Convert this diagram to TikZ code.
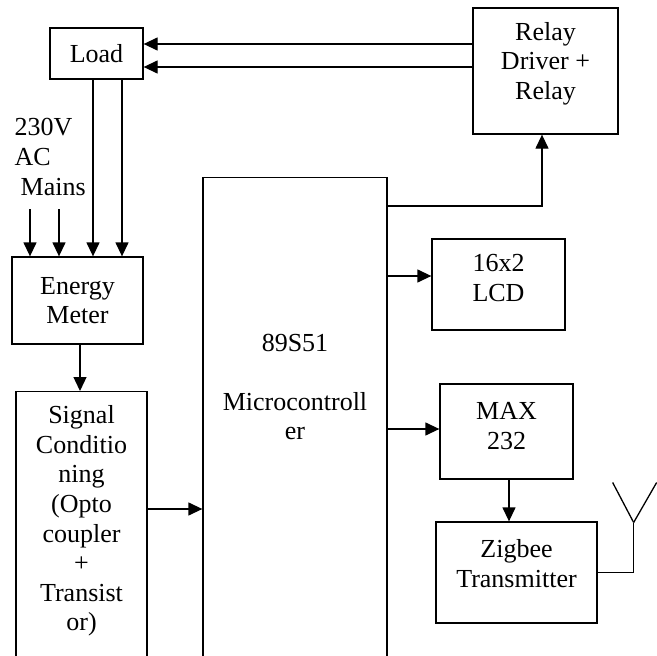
\documentclass[tikz,border=0pt]{standalone}
\usepackage{fontspec}
\setmainfont{Liberation Serif}
\usetikzlibrary{arrows.meta,positioning,calc}

\begin{document}
\begin{tikzpicture}[x=1pt,y=-1pt,>={Triangle[length=14pt,width=13pt]},line width=1.3pt,
  blk/.style={draw,align=center,inner sep=0pt,font=\fontsize{26}{29.6}\selectfont},
  lbl/.style={align=center,inner sep=0pt,font=\fontsize{26}{29.6}\selectfont}]
\path[use as bounding box,clip] (0,0) rectangle (657,656);
% blocks
\node[blk,minimum width=93pt,minimum height=51pt] (load) at (96.5,53.5) {Load};
\node[blk,minimum width=145pt,minimum height=126pt] (relay) at (545.5,71) {};
\node[lbl] (relaytxt) at ([yshift=7.5pt]relay.center) {Relay\\Driver +\\Relay};
\node[lbl,align=left,anchor=west] (mains) at (14,157) {230V\\AC\\\hspace{6pt}Mains};
\node[blk,minimum width=131pt,minimum height=87pt] (energy) at (77.5,300.5) {Energy\\Meter};
\node[blk,minimum width=131pt,minimum height=300pt,anchor=north] (sig) at (81.5,391) {};
\node[lbl] (sigtxt) at (81.5,521) {Signal\\Conditio\\ning\\(Opto\\coupler\\+\\Transist\\or)};
\node[blk,minimum width=184pt,minimum height=520pt,anchor=north] (micro) at (295,177) {};
\node[lbl] (microtxt) at (295,387) {89S51\\[29.6pt]Microcontroll\\er};
\node[blk,minimum width=133pt,minimum height=91pt] (lcd) at (498.5,284.5) {};
\node[lbl] (lcdtxt) at ([yshift=6.5pt]lcd.center) {16x2\\LCD};
\node[blk,minimum width=133pt,minimum height=95pt] (max) at (506.5,431.5) {};
\node[lbl] (maxtxt) at ([yshift=5.5pt]max.center) {MAX\\232};
\node[blk,minimum width=161pt,minimum height=101pt] (zig) at (516.5,572.5) {};
\node[lbl] (zigtxt) at ([yshift=9pt]zig.center) {Zigbee\\Transmitter};
% connection points
\coordinate (l1) at ([yshift=9.5pt]load.east);
\coordinate (l2) at ([yshift=-13.5pt]load.east);
\coordinate (l3) at ([xshift=-3.5pt]load.south);
\coordinate (l4) at ([xshift=25.5pt]load.south);
\coordinate (m1) at (30,209);
\coordinate (m2) at (59,209);
\coordinate (e1) at ([xshift=2.5pt]energy.south);
\coordinate (s1) at ($(sig.north east)+(0,118)$);
\coordinate (u1) at ($(micro.north east)+(0,29)$);
\coordinate (r1) at ([xshift=-3.5pt]relay.south);
\coordinate (c1) at ([yshift=8.5pt]lcd.west);
\coordinate (c2) at ([yshift=2.5pt]max.west);
\coordinate (x1) at ([xshift=2.5pt]max.south);
% arrows
\draw[->] (relay.west |- l1) -- (l1);
\draw[->] (relay.west |- l2) -- (l2);
\draw[->] (l3) -- (l3 |- energy.north);
\draw[->] (l4) -- (l4 |- energy.north);
\draw[->] (m1) -- (m1 |- energy.north);
\draw[->] (m2) -- (m2 |- energy.north);
\draw[->] (e1) -- (e1 |- sig.north);
\draw[->] (s1) -- (s1 -| micro.west);
\draw[->] (u1) -| (r1);
\draw[->] (c1 -| micro.east) -- (c1);
\draw[->] (c2 -| micro.east) -- (c2);
\draw[->] (x1) -- (x1 |- zig.north);
% antenna
\draw (zig.east) -- ++(36,0) -- ++(0,-50) coordinate (tip);
\draw (tip) -- ++(-21,-40);
\draw (tip) -- ++(23,-40);
\end{tikzpicture}
\end{document}
